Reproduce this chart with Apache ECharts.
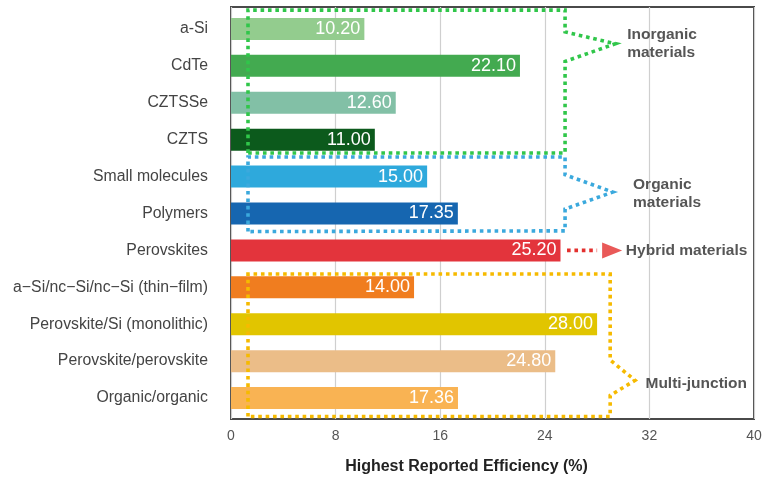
<!DOCTYPE html>
<html>
<head>
<meta charset="utf-8">
<script src="https://cdn.jsdelivr.net/npm/echarts@6/dist/echarts.min.js"></script>
<style>
  html, body { margin: 0; padding: 0; background: #fff; }
  #chart { width: 774px; height: 480px; }
</style>
</head>
<body>
<div id="chart"></div>
<script>
// Solar cell technologies and their best efficiencies (%)
const categories = [
  'a-Si', 'CdTe', 'CZTSSe', 'CZTS', 'Small molecules', 'Polymers', 'Perovskites',
  'a\u2212Si/nc\u2212Si/nc\u2212Si (thin\u2212film)', 'Perovskite/Si (monolithic)',
  'Perovskite/perovskite', 'Organic/organic'
];
const efficiencies = [10.20, 22.10, 12.60, 11.00, 15.00, 17.35, 25.20, 14.00, 28.00, 24.80, 17.36];
const barColors = [
  '#93cc8e', '#43aa50', '#82c0a6', '#0c5a1c', '#2ea9dc', '#1666b0', '#e3343c',
  '#f07d1f', '#e1c500', '#ebbd88', '#f9b353'
];
const xTicks = { min: 0, max: 40, interval: 8 };

// Group outlines in (efficiency, row) units; rows run from -0.5 to 10.5
const inorganicPath = [[1.3, 3.36], [1.3, -0.51], [25.55, -0.51], [25.55, 0.08], [29.4, 0.4],
  [25.55, 0.88], [25.55, 3.36], [1.3, 3.36]];
const organicPath = [[1.3, 5.49], [1.3, 3.47], [25.55, 3.47], [25.55, 3.95], [29.2, 4.42],
  [25.55, 4.88], [25.55, 5.47], [1.3, 5.49]];
const multiPath = [[1.3, 10.5], [1.3, 6.64], [29.0, 6.64], [29.0, 8.97], [30.9, 9.52],
  [29.0, 9.93], [29.0, 10.5], [1.3, 10.5]];
const hybridArrow = [[25.7, 6], [28.0, 6]];
const hybridHead = [29.15, 6];
const groupLabels = [
  { pos: [30.3, 0.41], text: 'Inorganic\nmaterials' },
  { pos: [30.75, 4.46], text: 'Organic\nmaterials' },
  { pos: [30.2, 6], text: 'Hybrid materials' },
  { pos: [31.7, 9.6], text: 'Multi-junction' }
];

const FONT = '"Liberation Sans", Arial, Helvetica, sans-serif';
const GREEN = '#30c64a', BLUE = '#3ba9dd', GOLD = '#f6ba00', RED = '#e3302e';

const chart = echarts.init(document.getElementById('chart'), null, { renderer: 'canvas' });

function dotted(name, data, color) {
  return {
    name, type: 'line', xAxisIndex: 0, yAxisIndex: 1, data,
    symbol: 'none', clip: false, silent: true, z: 5,
    lineStyle: { color, width: 3.6, type: [3.6, 3.8], cap: 'butt', join: 'miter' }
  };
}

chart.setOption({
  animation: false,
  textStyle: { fontFamily: FONT },
  grid: [
    { left: 231, width: 523, top: 10.5, height: 406, containLabel: false },
    { left: 231, width: 523, top: 7, height: 412, show: true, borderColor: '#4a4a4a', borderWidth: 2, backgroundColor: 'transparent', z: 0 }
  ],
  xAxis: [
    { type: 'value', gridIndex: 0, min: xTicks.min, max: xTicks.max, interval: xTicks.interval, show: false },
    {
      type: 'value', gridIndex: 1, min: xTicks.min, max: xTicks.max, interval: xTicks.interval,
      axisLine: { show: false }, axisTick: { show: false },
      splitLine: { show: true, lineStyle: { color: '#cfcfcf', width: 1.2 } },
      axisLabel: { color: '#555', fontSize: 14, margin: 10, fontFamily: FONT },
      name: 'Highest Reported Efficiency (%)', nameLocation: 'middle', nameGap: 40,
      nameTextStyle: { color: '#222', fontSize: 16, fontWeight: 'bold', fontFamily: FONT, padding: [0, 52, 0, 0] }
    }
  ],
  yAxis: [
    {
      type: 'category', gridIndex: 0, data: categories, inverse: true,
      axisLine: { show: false }, axisTick: { show: false }, splitLine: { show: false },
      axisLabel: { color: '#444', fontSize: 15.8, margin: 23, fontFamily: FONT }
    },
    { type: 'value', gridIndex: 0, min: -0.5, max: 10.5, inverse: true, show: false },
    { type: 'value', gridIndex: 1, show: false }
  ],
  series: [
    {
      name: 'Efficiency', type: 'bar', xAxisIndex: 0, yAxisIndex: 0, barWidth: 22, z: 2,
      data: efficiencies.map((v, i) => ({ value: v, itemStyle: { color: barColors[i] } })),
      label: {
        show: true, position: 'insideRight', distance: 4, color: '#fff', fontSize: 18,
        fontFamily: FONT, formatter: p => p.value.toFixed(2)
      }
    },
    dotted('Inorganic', inorganicPath, GREEN),
    dotted('Organic', organicPath, BLUE),
    dotted('Multi', multiPath, GOLD),
    dotted('Hybrid', hybridArrow, RED),
    {
      name: 'HybridHead', type: 'scatter', xAxisIndex: 0, yAxisIndex: 1, data: [hybridHead],
      symbol: 'triangle', symbolSize: [16, 20], symbolRotate: -90, clip: false, silent: true, z: 5,
      itemStyle: { color: RED }
    },
    {
      name: 'GroupLabels', type: 'scatter', xAxisIndex: 0, yAxisIndex: 1, symbolSize: 0,
      clip: false, silent: true, z: 6,
      data: groupLabels.map(g => ({ value: g.pos, text: g.text })),
      label: {
        show: true, position: 'right', distance: 0, color: '#2b2b2b', fontSize: 15.5,
        fontWeight: 'bold', fontFamily: FONT, lineHeight: 18, align: 'left',
        formatter: p => p.data.text
      }
    }
  ]
});
</script>
</body>
</html>
